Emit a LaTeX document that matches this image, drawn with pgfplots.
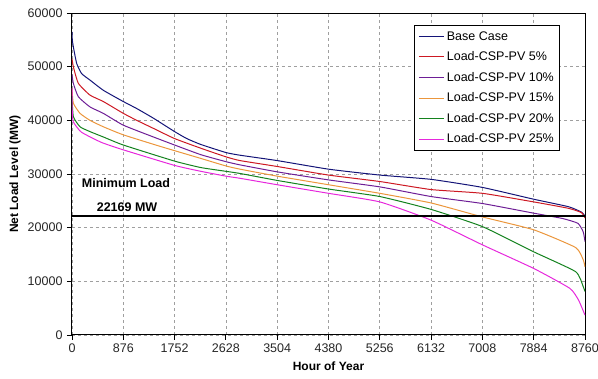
\documentclass[border=0pt]{standalone}
\usepackage{fontspec}
\setmainfont{Liberation Sans}
\usepackage{pgfplots}
\pgfplotsset{compat=1.18}
\usetikzlibrary{calc}
\definecolor{cBase}{RGB}{20,20,120}
\definecolor{cFive}{RGB}{205,25,35}
\definecolor{cTen}{RGB}{110,30,150}
\definecolor{cFifteen}{RGB}{235,150,60}
\definecolor{cTwenty}{RGB}{20,130,30}
\definecolor{cTwentyFive}{RGB}{230,40,220}
\begin{document}
\begin{tikzpicture}[font=\fontsize{12}{14}\selectfont]
\begin{axis}[
  scale only axis,
  width=513pt, height=322pt,
  xmin=0, xmax=8760, ymin=0, ymax=60000,
  xtick={0,876,1752,2628,3504,4380,5256,6132,7008,7884,8760},
  ytick={0,10000,20000,30000,40000,50000,60000},
  /pgf/number format/1000 sep={},
  /pgf/number format/assume math mode=true,
  scaled ticks=false,
  tick align=outside,
  xtick pos=bottom, ytick pos=left,
  major tick length=5pt,
  tick style={black, line width=0.9pt},
  yticklabel style={font=\fontsize{12.5}{14}\selectfont, xshift=-1pt, text=black!85},
  xticklabel style={font=\fontsize{12.5}{14}\selectfont, text=black!85},
  grid=major,
  major grid style={gray!75, dashed, line width=0.7pt},
  axis line style={black, line width=1pt},
  xlabel={\bfseries Hour of Year},
  ylabel={\bfseries Net Load Level (MW)},
  xlabel style={at={(axis description cs:0.5,0)}, anchor=center, yshift=-31pt},
  ylabel style={at={(axis description cs:0,0.5)}, anchor=center, yshift=57pt},
  legend style={at={(0.952,0.963)}, anchor=north east, draw, line width=1pt,
    font=\fontsize{12.5}{14}\selectfont, row sep=6pt, inner sep=4pt},
  legend cell align=left,
  legend image code/.code={\draw[mark repeat=2,mark phase=2,#1] plot coordinates {(0cm,0cm) (0.45cm,0cm) (0.9cm,0cm)};},
  every axis plot/.append style={line width=1pt, smooth, tension=0.3},
]
\addplot[cBase] coordinates {
 (0,56500) (5,55000) (23,53700) (80,50600) (165,48700) (307,47500) (535,45600)
 (876,43500) (1105,42200) (1390,40400) (1752,37900) (1960,36600) (2200,35500)
 (2628,34000) (2869,33500) (3504,32500) (4380,30900) (5256,29800) (6132,29000)
 (7008,27500) (7884,25300) (8480,23900) (8700,22900) (8760,22169)};
\addlegendentry{Base Case}
\addplot[cFive] coordinates {
 (0,51500) (23,50000) (108,46900) (307,44700) (535,43500) (876,41300) (1105,40000)
 (1390,38500) (1752,36600) (2200,34800) (2628,33200) (2869,32500) (3504,31400)
 (4380,29800) (5256,28600) (6132,27100) (7008,26400) (7884,24800) (8480,23600)
 (8700,22800) (8760,21800)};
\addlegendentry{Load-CSP-PV 5\%}
\addplot[cTen] coordinates {
 (0,48500) (23,46900) (108,44400) (307,42500) (535,41300) (876,39100) (1390,36900)
 (1752,35400) (2200,33600) (2628,32300) (2869,31700) (3504,30400) (4380,28900)
 (5256,27600) (6132,25800) (7008,24500) (7884,22700) (8380,21700) (8640,20800)
 (8730,19200) (8760,17400)};
\addlegendentry{Load-CSP-PV 10\%}
\addplot[cFifteen] coordinates {
 (0,46000) (23,43200) (137,41300) (307,40000) (535,38800) (876,37300) (1520,35100)
 (2200,32900) (2628,31500) (2869,30900) (3504,29600) (4380,28000) (5256,26400)
 (6132,24600) (7008,22000) (7884,19600) (8600,16300) (8730,14000) (8760,12700)};
\addlegendentry{Load-CSP-PV 15\%}
\addplot[cTwenty] coordinates {
 (0,44500) (23,40700) (137,38800) (307,37900) (535,36900) (876,35400) (1752,32400)
 (2200,31200) (2628,30500) (2869,30100) (3504,28800) (4380,27200) (5256,25800)
 (6132,23400) (7008,20200) (7884,15500) (8600,11800) (8730,9000) (8760,8100)};
\addlegendentry{Load-CSP-PV 20\%}
\addplot[cTwentyFive] coordinates {
 (0,46000) (5,41500) (23,39700) (160,37800) (500,35900) (876,34500) (1752,31600)
 (2200,30500) (2628,29600) (2869,29200) (3504,28000) (4380,26400) (5256,24800)
 (6132,21400) (7008,16800) (7884,12400) (8500,8700) (8650,6500) (8760,3700)};
\addlegendentry{Load-CSP-PV 25\%}
% minimum load line
\addplot[black, line width=1.1pt, forget plot, sharp plot] coordinates {(0,22169) (8760,22169)};
\node[font=\bfseries\fontsize{12.5}{14}\selectfont] at (axis cs:922,28300) {Minimum Load};
\node[font=\bfseries\fontsize{12.5}{14}\selectfont] at (axis cs:940,23900) {22169 MW};
\end{axis}
\pgfresetboundingbox
\useasboundingbox ($(current axis.south west)+(-72pt,-44pt)$) rectangle ($(current axis.north east)+(13pt,13pt)$);
\end{tikzpicture}
\end{document}
